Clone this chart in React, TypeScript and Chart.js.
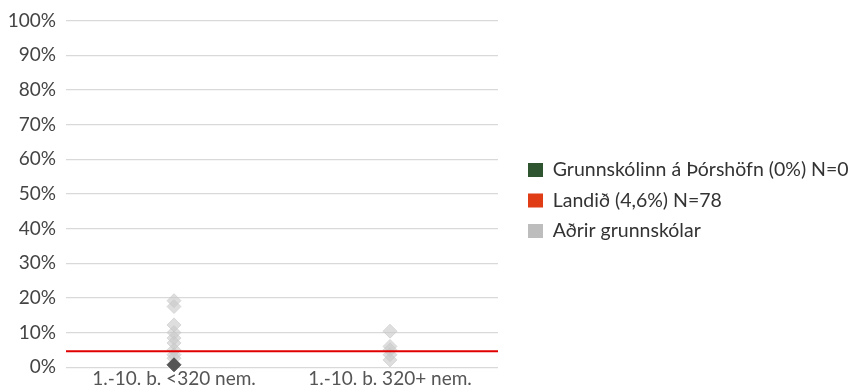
import React, { useEffect, useRef } from "react";
import { Chart, registerables } from "chart.js";

Chart.register(...registerables);

const categories = ["1.-10. b. <320 nem.", "1.-10. b. 320+ nem."];
const seriesNames = ["Grunnskólinn á Þórshöfn (0%) N=0", "Landið (4,6%) N=78", "Aðrir grunnskólar"];
const schoolValues = [0.7];
const nationalValue = 4.6;
const othersSmall = [19.2, 17.5, 12.2, 10, 8.4, 7, 5, 3.6, 2.6];
const othersLarge = [10.4, 6, 5, 3.6, 2.1];
const yTicks = [0, 10, 20, 30, 40, 50, 60, 70, 80, 90, 100];

const legendColors = ["#2e5430", "#e03c16", "#bdbdbd"];
const FONT = "Lato, 'Open Sans', sans-serif";
const LEGEND_WIDTH = 352;
const LEGEND_GAP = 19;
const LEGEND_DY = 1.5;

const legendSpacer = {
  id: "legendSpacer",
  afterInit(chart: any) {
    const legend = chart.legend;
    if (!legend) return;
    const origFit = legend.fit.bind(legend);
    legend.fit = function () {
      origFit();
      this.width = LEGEND_WIDTH;
    };
  },
  afterLayout(chart: any) {
    const legend = chart.legend;
    if (!legend) return;
    legend.left += LEGEND_GAP;
    legend.top += LEGEND_DY;
    legend.bottom += LEGEND_DY;
  },
};

export default function App() {
  const ref = useRef<HTMLCanvasElement | null>(null);
  useEffect(() => {
    if (!ref.current) return;
    const pos = (i: number) => i + 0.5;
    const chart = new Chart(ref.current, {
      type: "scatter",
      plugins: [legendSpacer],
      data: {
        datasets: [
          {
            label: seriesNames[0],
            data: schoolValues.map((v) => ({ x: pos(0), y: v })),
            backgroundColor: "#555555",
            borderColor: "#555555",
            pointStyle: "rectRot",
            pointRadius: 7,
            pointHoverRadius: 7,
            clip: false,
          } as any,
          {
            type: "line",
            label: seriesNames[1],
            data: [
              { x: 0, y: nationalValue },
              { x: categories.length, y: nationalValue },
            ],
            borderColor: "#e00000",
            backgroundColor: "#e03c16",
            borderWidth: 2,
            pointRadius: 0,
          } as any,
          {
            label: seriesNames[2],
            data: [
              ...othersSmall.map((v) => ({ x: pos(0), y: v })),
              ...othersLarge.map((v) => ({ x: pos(1), y: v })),
            ],
            backgroundColor: "rgba(200,200,200,0.6)",
            borderColor: "rgba(200,200,200,0.6)",
            pointStyle: "rectRot",
            pointRadius: 7,
            pointHoverRadius: 7,
            clip: false,
          } as any,
        ],
      },
      options: {
        animation: false,
        responsive: true,
        maintainAspectRatio: false,
        layout: { padding: 0 },
        plugins: {
          tooltip: { enabled: false },
          legend: {
            position: "right",
            maxWidth: 400,
            labels: {
              font: { family: FONT, size: 19.5 },
              color: "#333",
              boxWidth: 15,
              boxHeight: 14,
              padding: 11,
              generateLabels: (c: any) =>
                c.data.datasets.map((d: any, i: number) => ({
                  text: d.label,
                  fillStyle: legendColors[i],
                  strokeStyle: legendColors[i],
                  lineWidth: 0,
                  hidden: false,
                  datasetIndex: i,
                  fontColor: "#333",
                })),
            },
          },
        },
        scales: {
          x: {
            type: "linear",
            min: 0,
            max: categories.length,
            afterBuildTicks: (axis: any) => {
              axis.ticks = categories.map((_, i) => ({ value: pos(i) }));
            },
            ticks: {
              callback: (v: any) => categories[Math.floor(Number(v))] ?? "",
              font: { family: FONT, size: 19 },
              color: "#555",
              padding: 0,
              maxRotation: 0,
            },
            grid: { display: false, drawTicks: false },
            border: { display: false },
          },
          y: {
            min: 0,
            max: 100,
            afterBuildTicks: (axis: any) => {
              axis.ticks = yTicks.map((v) => ({ value: v }));
            },
            afterFit: (axis: any) => {
              axis.paddingTop = 12.7;
              axis.width = 58;
            },
            ticks: {
              callback: (v: any) => v + "%",
              font: { family: FONT, size: 19 },
              color: "#444",
              padding: 10,
            },
            grid: { color: "#d9d9d9", lineWidth: 1.3, drawTicks: false },
            border: { display: false },
          },
        },
      },
    });
    return () => chart.destroy();
  }, []);
  return (
    <div style={{ width: 842, height: 382 }}>
      <canvas ref={ref} />
    </div>
  );
}
